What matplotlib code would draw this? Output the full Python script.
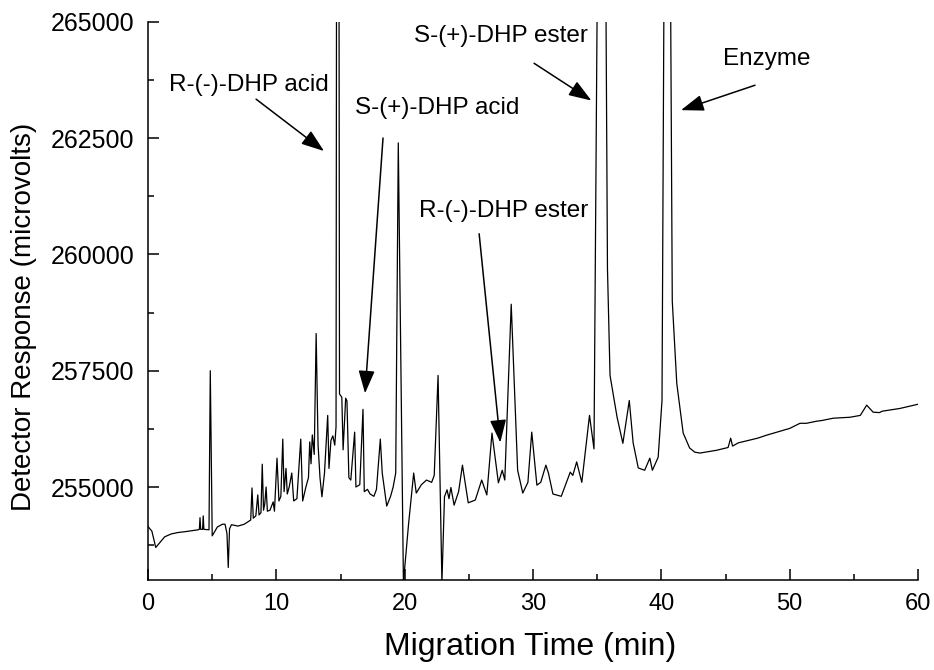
import matplotlib
matplotlib.use('Agg')
import matplotlib.pyplot as plt
from matplotlib.ticker import MultipleLocator, ScalarFormatter

plt.rcParams['font.family'] = ['Liberation Sans', 'DejaVu Sans']

# trace (min, microvolts); off-scale peaks are clipped
time_min = [
    0.0, 0.3, 0.6, 0.9, 1.3, 1.8, 2.3, 2.9, 3.4, 3.9, 4.0, 4.05, 4.1, 4.25, 4.3, 4.35,
    4.75, 4.85, 5.0, 5.4, 5.8, 6.0, 6.15, 6.25, 6.35, 6.5, 7.0, 7.5, 8.0, 8.1, 8.2,
    8.4, 8.55, 8.65, 8.8, 8.9, 9.0, 9.1, 9.2, 9.3, 9.5, 9.75, 9.85, 10.05, 10.2,
    10.35, 10.5, 10.6, 10.75, 10.85, 11.0, 11.2, 11.35, 11.6, 11.9, 12.05, 12.3,
    12.5, 12.6, 12.7, 12.8, 12.95, 13.1, 13.25, 13.4, 13.55, 13.75, 14.0, 14.1,
    14.25, 14.4, 14.55, 14.65, 14.78, 14.92, 15.1, 15.2, 15.4, 15.5, 15.65, 15.8,
    16.1, 16.2, 16.5, 16.75, 16.85, 17.1, 17.3, 17.6, 17.8, 18.1, 18.25, 18.6,
    18.9, 19.1, 19.3, 19.5, 19.9, 20.3, 20.7, 20.9, 21.3, 21.7, 22.1, 22.3, 22.6,
    22.9, 23.1, 23.3, 23.45, 23.6, 23.85, 24.2, 24.5, 24.95, 25.5, 26.0, 26.4,
    26.8, 27.3, 27.6, 27.8, 28.3, 28.8, 29.2, 29.6, 29.9, 30.3, 30.6, 31.0, 31.2,
    31.55, 32.2, 32.9, 33.1, 33.4, 33.8, 34.4, 34.75, 35.0, 35.35, 35.68, 35.8,
    36.0, 36.55, 37.0, 37.5, 37.8, 38.2, 38.7, 39.1, 39.3, 39.75, 40.05, 40.2,
    40.45, 40.72, 40.85, 41.2, 41.7, 42.2, 42.6, 43.0, 44.3, 45.2, 45.4, 45.55, 46.0,
    46.9, 47.5, 48.2, 49.0, 49.5, 50.0, 50.8, 51.3, 52.1, 52.5, 53.4, 54.0, 54.7,
    55.5, 56.0, 56.5, 57.0, 57.2, 58.6, 60.0,
]
response_uv = [
    254150, 254050, 253700, 253800, 253930, 253990, 254020, 254040, 254060, 254080,
    254090, 254340, 254090, 254090, 254380, 254090, 254080, 257500, 253950, 254140,
    254200, 254200, 254000, 253270, 254100, 254190, 254160, 254200, 254290, 254980,
    254330, 254380, 254830, 254400, 254450, 255490, 254500, 254650, 255000, 254480,
    254500, 254680, 254480, 255620, 254700, 254800, 256030, 254900, 255400, 254850,
    255000, 255300, 254700, 254750, 256030, 254700, 255000, 255200, 255970, 255500,
    256120, 255700, 258300, 255900, 255200, 254790, 255300, 256540, 255400, 256000,
    256100, 255900, 256300, 290000, 257000, 256930, 255800, 256910, 256850, 255200,
    255150, 256180, 255000, 255050, 256670, 254900, 254950, 254850, 254800, 254950,
    256030, 255300, 254590, 254800, 255000, 255300, 262400, 252950, 254200, 255300,
    254870, 255050, 255150, 255100, 255250, 257400, 252950, 254790, 254940, 254750,
    254990, 254610, 254900, 255470, 254660, 254720, 255150, 254830, 256160, 255090,
    255360, 255150, 258930, 255360, 254870, 255100, 256180, 255040, 255100, 255470,
    255300, 254850, 254800, 255320, 255250, 255540, 255100, 256540, 255820, 265500,
    300000, 265500, 259700, 257400, 256500, 255940, 256860, 255950, 255410, 255360,
    255620, 255360, 255640, 256860, 265500, 300000, 265500, 259000, 257230, 256160,
    255840, 255750, 255730, 255790, 255850, 256050, 255880, 255950, 256010, 256050,
    256115, 256180, 256220, 256260, 256370, 256370, 256415, 256430, 256480, 256490,
    256500, 256540, 256760, 256610, 256600, 256630, 256690, 256780,
]

peak_labels = ['R-(-)-DHP acid', 'S-(+)-DHP acid', 'S-(+)-DHP ester', 'R-(-)-DHP ester', 'Enzyme']
label_x = [7.83, 22.56, 27.5, 27.74, 48.24]
label_y = [263650, 263150, 264690, 260940, 264200]
arrow_from = [(8.42, 263340), (18.31, 262504), (30.08, 264112), (25.8, 260446), (47.3, 263640)]
arrow_to = [(13.71, 262225), (16.91, 257015), (34.55, 263310), (27.45, 255956), (41.53, 263104)]

fig = plt.figure(figsize=(9.34, 6.7), dpi=100)
ax = fig.add_axes([0.1585, 0.1343, 0.8244, 0.8329])

ax.plot(time_min, response_uv, color='black', lw=0.9)

ax.set_xlim(0, 60)
ax.set_ylim(253000, 265000)
ax.xaxis.set_major_locator(MultipleLocator(10))
ax.xaxis.set_minor_locator(MultipleLocator(5))
ax.yaxis.set_major_locator(MultipleLocator(2500))
ax.yaxis.set_minor_locator(MultipleLocator(1250))
fmt = ScalarFormatter(useOffset=False)
fmt.set_scientific(False)
ax.yaxis.set_major_formatter(fmt)

for side in ['top', 'right']:
    ax.spines[side].set_visible(False)
for side in ['left', 'bottom']:
    ax.spines[side].set_linewidth(1.1)

ax.tick_params(which='both', direction='in', width=1.1)
ax.tick_params(which='major', length=8)
ax.tick_params(which='minor', length=4.5)
ax.tick_params(axis='y', which='major', labelsize=18, pad=10)
ax.tick_params(axis='x', which='major', labelsize=17, pad=9)

ax.set_xlabel('Migration Time (min)', fontsize=23)
ax.xaxis.set_label_coords(0.496, -0.093)
ax.set_ylabel('Detector Response (microvolts)', fontsize=20)
ax.yaxis.set_label_coords(-0.144, 0.471)

for name, tx, ty, tail, head in zip(peak_labels, label_x, label_y, arrow_from, arrow_to):
    ax.text(tx, ty, name, fontsize=17.5, ha='center', va='center')
    ax.annotate('', xy=head, xytext=tail,
                arrowprops=dict(arrowstyle='-|>,head_length=0.7,head_width=0.25',
                                color='black', lw=1.1, mutation_scale=20,
                                shrinkA=0, shrinkB=0))

fig.savefig('out.png', dpi=100)
